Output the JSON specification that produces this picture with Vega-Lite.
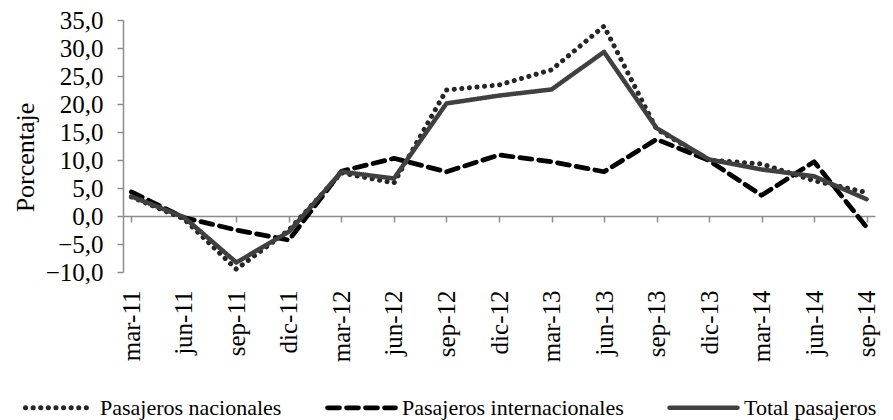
{
  "$schema": "https://vega.github.io/schema/vega-lite/v6.json",
  "width": 752,
  "height": 252,
  "autosize": {"type": "none"},
  "padding": {"left": 123, "top": 20, "right": 18, "bottom": 148},
  "background": "white",
  "config": {
    "font": "Liberation Serif",
    "view": {"stroke": null},
    "legend": {"labelFont": "Liberation Serif"}
  },
  "data": {
    "values": [
      {"fecha": "mar-11", "serie": "Pasajeros nacionales", "valor": 3.4},
      {"fecha": "jun-11", "serie": "Pasajeros nacionales", "valor": -0.5},
      {"fecha": "sep-11", "serie": "Pasajeros nacionales", "valor": -9.5},
      {"fecha": "dic-11", "serie": "Pasajeros nacionales", "valor": -2.5},
      {"fecha": "mar-12", "serie": "Pasajeros nacionales", "valor": 7.7},
      {"fecha": "jun-12", "serie": "Pasajeros nacionales", "valor": 5.9},
      {"fecha": "sep-12", "serie": "Pasajeros nacionales", "valor": 22.5},
      {"fecha": "dic-12", "serie": "Pasajeros nacionales", "valor": 23.4},
      {"fecha": "mar-13", "serie": "Pasajeros nacionales", "valor": 26.1},
      {"fecha": "jun-13", "serie": "Pasajeros nacionales", "valor": 33.9},
      {"fecha": "sep-13", "serie": "Pasajeros nacionales", "valor": 15.5},
      {"fecha": "dic-13", "serie": "Pasajeros nacionales", "valor": 10.0},
      {"fecha": "mar-14", "serie": "Pasajeros nacionales", "valor": 9.3},
      {"fecha": "jun-14", "serie": "Pasajeros nacionales", "valor": 6.3},
      {"fecha": "sep-14", "serie": "Pasajeros nacionales", "valor": 4.2},
      {"fecha": "mar-11", "serie": "Pasajeros internacionales", "valor": 4.3},
      {"fecha": "jun-11", "serie": "Pasajeros internacionales", "valor": -0.3},
      {"fecha": "sep-11", "serie": "Pasajeros internacionales", "valor": -2.5},
      {"fecha": "dic-11", "serie": "Pasajeros internacionales", "valor": -4.3},
      {"fecha": "mar-12", "serie": "Pasajeros internacionales", "valor": 8.0},
      {"fecha": "jun-12", "serie": "Pasajeros internacionales", "valor": 10.3},
      {"fecha": "sep-12", "serie": "Pasajeros internacionales", "valor": 7.9},
      {"fecha": "dic-12", "serie": "Pasajeros internacionales", "valor": 10.9},
      {"fecha": "mar-13", "serie": "Pasajeros internacionales", "valor": 9.7},
      {"fecha": "jun-13", "serie": "Pasajeros internacionales", "valor": 7.9},
      {"fecha": "sep-13", "serie": "Pasajeros internacionales", "valor": 13.7},
      {"fecha": "dic-13", "serie": "Pasajeros internacionales", "valor": 9.9},
      {"fecha": "mar-14", "serie": "Pasajeros internacionales", "valor": 3.7},
      {"fecha": "jun-14", "serie": "Pasajeros internacionales", "valor": 9.7},
      {"fecha": "sep-14", "serie": "Pasajeros internacionales", "valor": -2.0},
      {"fecha": "mar-11", "serie": "Total pasajeros", "valor": 3.5},
      {"fecha": "jun-11", "serie": "Total pasajeros", "valor": -0.2},
      {"fecha": "sep-11", "serie": "Total pasajeros", "valor": -8.3},
      {"fecha": "dic-11", "serie": "Total pasajeros", "valor": -2.8},
      {"fecha": "mar-12", "serie": "Total pasajeros", "valor": 7.9},
      {"fecha": "jun-12", "serie": "Total pasajeros", "valor": 6.7},
      {"fecha": "sep-12", "serie": "Total pasajeros", "valor": 20.1},
      {"fecha": "dic-12", "serie": "Total pasajeros", "valor": 21.5},
      {"fecha": "mar-13", "serie": "Total pasajeros", "valor": 22.6},
      {"fecha": "jun-13", "serie": "Total pasajeros", "valor": 29.3},
      {"fecha": "sep-13", "serie": "Total pasajeros", "valor": 15.7},
      {"fecha": "dic-13", "serie": "Total pasajeros", "valor": 10.1},
      {"fecha": "mar-14", "serie": "Total pasajeros", "valor": 8.3},
      {"fecha": "jun-14", "serie": "Total pasajeros", "valor": 7.1},
      {"fecha": "sep-14", "serie": "Total pasajeros", "valor": 3.0}
    ]
  },
  "mark": {"type": "line", "strokeCap": "round", "strokeJoin": "round"},
  "encoding": {
    "x": {
      "field": "fecha",
      "type": "nominal",
      "sort": ["mar-11","jun-11","sep-11","dic-11","mar-12","jun-12","sep-12","dic-12","mar-13","jun-13","sep-13","dic-13","mar-14","jun-14","sep-14"],
      "scale": {"type": "point", "padding": 0.16},
      "axis": {
        "title": null,
        "orient": "bottom",
        "offset": -56,
        "labelAngle": -90,
        "labelAlign": "right",
        "labelBaseline": "middle",
        "labelFont": "Liberation Serif",
        "labelFontSize": 25,
        "labelColor": "#000000",
        "labelPadding": 68,
        "tickSize": 6,
        "tickColor": "#8c8c8c",
        "tickWidth": 1.5,
        "domainColor": "#8c8c8c",
        "domainWidth": 1.5,
        "grid": false
      }
    },
    "y": {
      "field": "valor",
      "type": "quantitative",
      "scale": {"domain": [-10, 35], "nice": false, "zero": false},
      "axis": {
        "title": "Porcentaje",
        "titleFont": "Liberation Serif",
        "titleFontSize": 26,
        "titleFontWeight": "normal",
        "titleColor": "#000000",
        "titleX": -98,
        "titleY": 137,
        "titleAngle": -90,
        "titleAlign": "center",
        "titleBaseline": "middle",
        "values": [-10, -5, 0, 5, 10, 15, 20, 25, 30, 35],
        "labelExpr": "replace(format(datum.value, '.1f'), '.', ',')",
        "labelFont": "Liberation Serif",
        "labelFontSize": 25,
        "labelColor": "#000000",
        "labelPadding": 14,
        "tickSize": 6,
        "tickColor": "#8c8c8c",
        "tickWidth": 1.5,
        "domainColor": "#8c8c8c",
        "domainWidth": 1.5,
        "grid": false
      }
    },
    "color": {
      "field": "serie",
      "type": "nominal",
      "sort": ["Pasajeros nacionales", "Pasajeros internacionales", "Total pasajeros"],
      "scale": {
        "domain": ["Pasajeros nacionales", "Pasajeros internacionales", "Total pasajeros"],
        "range": ["#262626", "#000000", "#404040"]
      },
      "legend": {
        "title": null,
        "orient": "none",
        "direction": "horizontal",
        "legendX": -100,
        "legendY": 351,
        "symbolType": "stroke",
        "symbolSize": 4624,
        "symbolStrokeWidth": 4.5,
        "labelFont": "Liberation Serif",
        "labelFontSize": 22,
        "labelLimit": 400,
        "labelColor": "#000000",
        "labelOffset": 4,
        "columnPadding": 36,
        "encode": {"symbols": {"update": {
          "strokeCap": {"value": "round"}
        }}}
      }
    },
    "strokeDash": {
      "field": "serie",
      "type": "nominal",
      "sort": ["Pasajeros nacionales", "Pasajeros internacionales", "Total pasajeros"],
      "scale": {
        "domain": ["Pasajeros nacionales", "Pasajeros internacionales", "Total pasajeros"],
        "range": [[0.1, 7.5], [12, 7], [1, 0]]
      },
      "legend": null
    },
    "strokeWidth": {
      "field": "serie",
      "type": "nominal",
      "scale": {
        "domain": ["Pasajeros nacionales", "Pasajeros internacionales", "Total pasajeros"],
        "range": [5, 4.5, 4]
      },
      "legend": null
    },
    "order": {"field": "serie", "type": "nominal"}
  }
}
